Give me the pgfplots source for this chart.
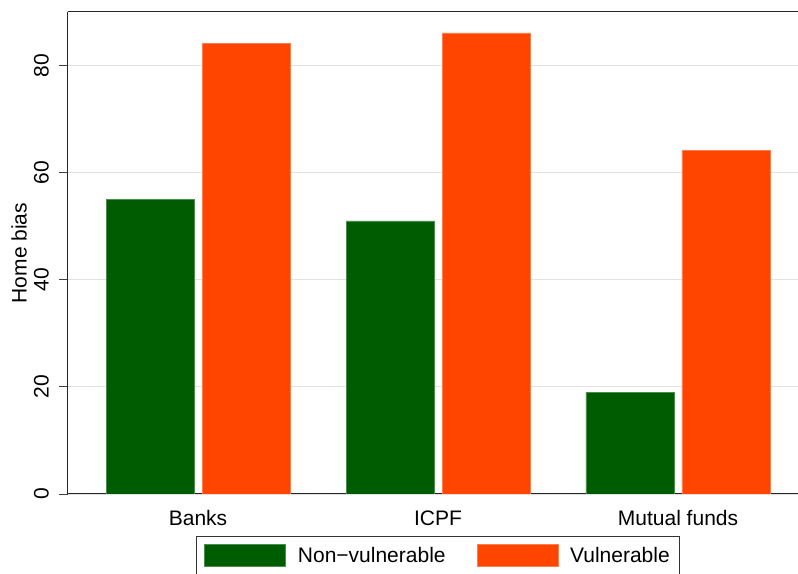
\documentclass[border=0pt]{standalone}
\usepackage{pgfplots}
\pgfplotsset{compat=1.18}
\usepackage{fontspec}
\setmainfont{Liberation Sans}
\definecolor{dgreen}{RGB}{0,92,0}
\definecolor{ored}{RGB}{255,69,0}
\definecolor{gridgray}{RGB}{225,225,225}

\begin{document}
\begin{tikzpicture}
\begin{axis}[
    name=ax,
    width=730pt, height=482pt,
    scale only axis,
    xmin=-0.542, xmax=2.5,
    ymin=0, ymax=90,
    axis x line*=box,
    axis y line*=left,
    axis line style={line width=1pt, draw=black!85},
    xtick={0,1,2},
    xticklabels={Banks, ICPF, Mutual funds},
    x tick style={draw=none},
    ytick={0,20,40,60,80},
    ymajorgrids=true,
    grid style={gridgray, line width=1.2pt},
    tick align=outside,
    major tick length=9pt,
    y tick style={black!75, line width=0.8pt},
    yticklabel style={rotate=90, anchor=south, inner sep=0pt, yshift=10pt},
    xticklabel style={anchor=north, yshift=-4pt},
    /pgf/number format/assume math mode=true,
    tick label style={font=\fontsize{21}{24}\selectfont},
    ylabel={Home bias},
    ylabel style={font=\fontsize{21}{24}\selectfont, at={(axis description cs:0,0.5)}, anchor=south, xshift=0pt, yshift=41pt, inner sep=0pt},
    legend style={at={(0.507,0)}, anchor=north, yshift=-42pt,
        draw=black!80, line width=0.8pt, legend columns=2,
        font=\fontsize{21}{24}\selectfont,
        inner xsep=8pt, inner ysep=8pt,
        /tikz/every odd column/.append style={column sep=10pt},
        /tikz/every even column/.append style={column sep=29pt}},
    legend image code/.code={\fill[#1] (0pt,-11pt) rectangle (81pt,11pt);},
]
\addplot[ybar, bar width=0.367, bar shift=-0.2, fill=dgreen, draw=dgreen!70!white, line width=0.5pt]
    coordinates {(0,55) (1,51) (2,19)};
\addplot[ybar, bar width=0.367, bar shift=0.2, fill=ored, draw=ored!70!white, line width=0.5pt]
    coordinates {(0,84.1) (1,86.1) (2,64.1)};
\legend{Non\textminus vulnerable, Vulnerable\hspace{7pt}}
\end{axis}
\pgfresetboundingbox
\path ([xshift=-68pt, yshift=-80pt]ax.south west) rectangle ([yshift=12pt]ax.north east);
\end{tikzpicture}
\end{document}
